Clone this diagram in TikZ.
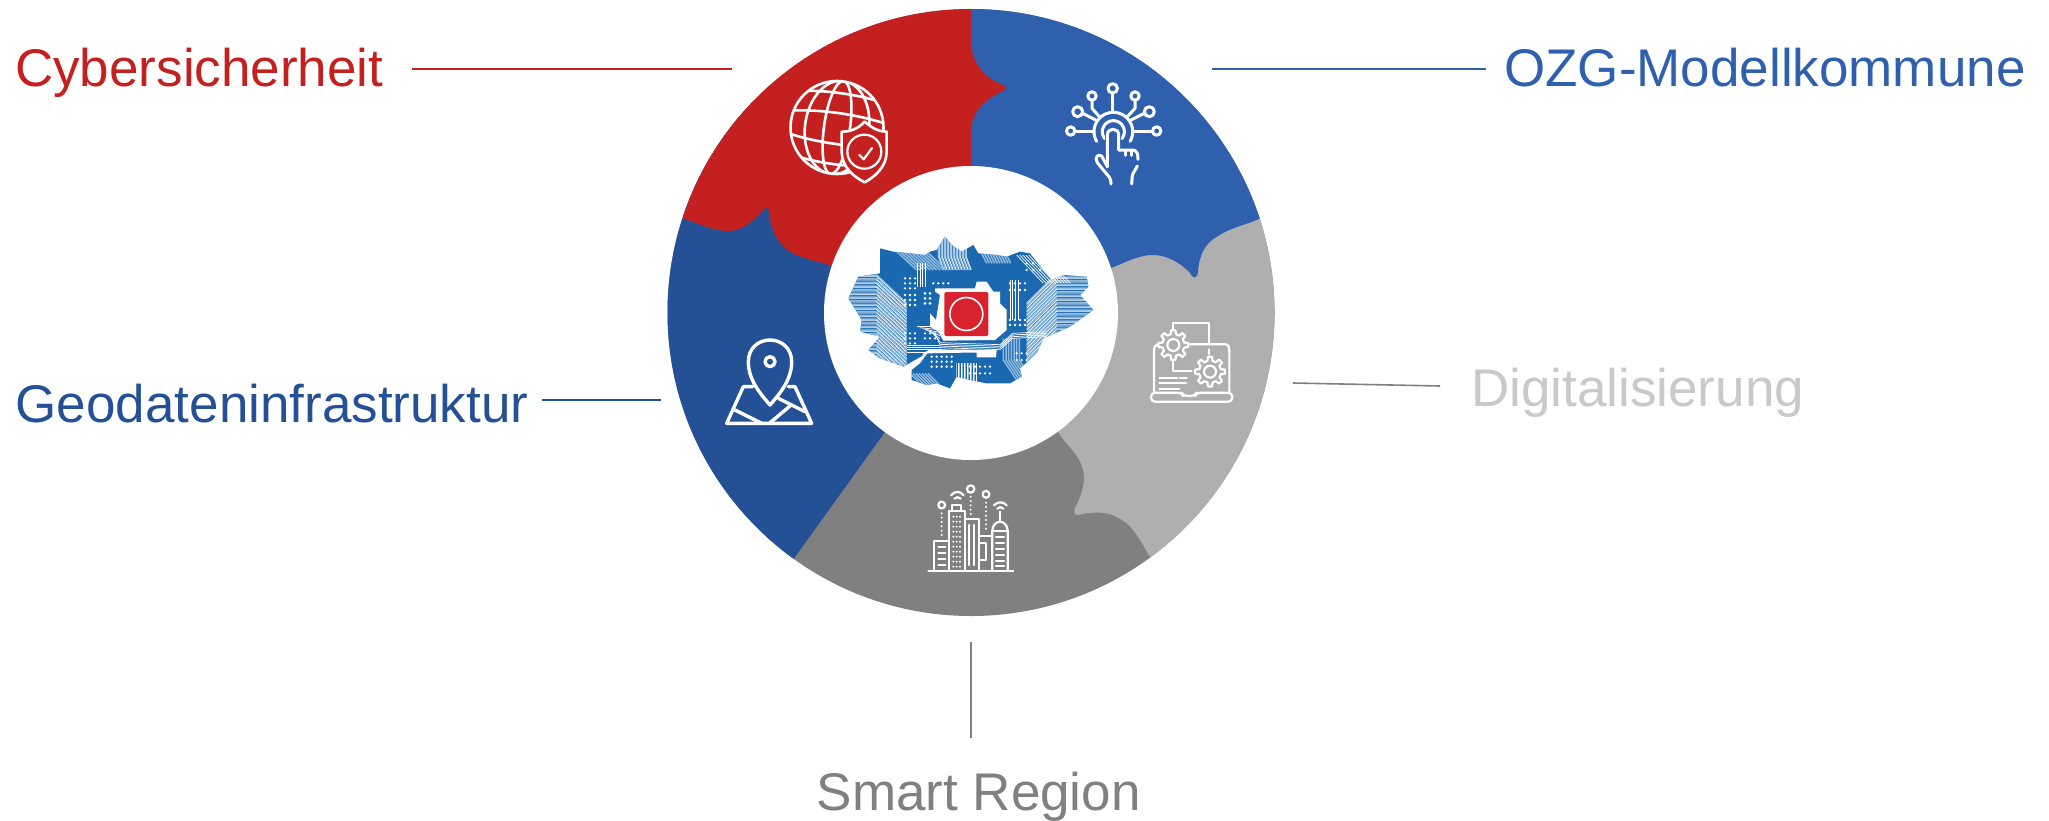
\documentclass[tikz,border=0pt]{standalone}
\usepackage{fontspec}
\setmainfont{Liberation Sans}
\usetikzlibrary{calc}
\definecolor{cred}{HTML}{C4201F}
\definecolor{cblue}{HTML}{2E60AE}
\definecolor{cdblue}{HTML}{245195}
\definecolor{clgray}{HTML}{AFAFAF}
\definecolor{cdgray}{HTML}{808080}
\definecolor{ctxtgray}{HTML}{C9C9C9}
\definecolor{pcb}{HTML}{1A69B0}
\definecolor{pcbl}{HTML}{8DB9DE}
\definecolor{chip}{HTML}{D8232F}
\tikzset{
  lab/.style={anchor=base west,inner sep=0pt,font=\fontsize{53}{60}\selectfont},
  lead/.style={line width=1.6pt},
  ico/.style={draw=white,line width=3pt,line cap=round,line join=round},
  icot/.style={draw=white,line width=2.2pt,line cap=round,line join=round},
  zoomed/.style={x=0.33333pt,y=-0.33333pt},
  trace/.style={white,line width=0.7pt},
  tracel/.style={pcbl,line width=1.5pt},
}
\newcommand{\gearico}[3]{%
  \draw[icot,fill=clgray] ($(#1,#2)+(-13:#3*0.74)$)
    \foreach \a in {0,45,...,315}{
      -- ($(#1,#2)+(\a-13:#3*0.74)$) -- ($(#1,#2)+(\a-8:#3)$) -- ($(#1,#2)+(\a+8:#3)$) -- ($(#1,#2)+(\a+13:#3*0.74)$)
    } -- cycle;
}
\begin{document}
\begin{tikzpicture}[x=1pt,y=-1pt]
\useasboundingbox (0,0) rectangle (2049,820);
% ring
\begin{scope}
\clip (971,312.5) circle[radius=303.5pt];
\fill[cdgray] (600,0) rectangle (1300,650);
\fill[clgray] (971,313) -- (1300,150) -- (1300,640) -- (1165,578) -- (1150,557)
  .. controls (1140,540) and (1132,525) .. (1122,520)
  .. controls (1108,510) and (1090,512) .. (1078,515)
  .. controls (1073,515) and (1074,511) .. (1075,508)
  .. controls (1082,495) and (1086,480) .. (1083,470)
  .. controls (1080,455) and (1066,445) .. (1058,432)
  -- cycle;
\fill[cdblue] (971,313) -- (885,432) -- (795,557) -- (780,578) -- (600,700) -- (600,100) -- (971,100) -- cycle;
\fill[cblue] (971,313) -- (971,0) -- (1300,0) -- (1300,205) -- (1259,219)
  .. controls (1245,225) and (1230,228) .. (1218,236)
  .. controls (1205,243) and (1199,255) .. (1198,272)
  .. controls (1197,279) and (1193,279) .. (1190,273)
  .. controls (1180,262) and (1165,254) .. (1150,255)
  .. controls (1137,256) and (1124,263) .. (1111,268)
  -- cycle;
\fill[cred] (600,0) -- (600,195) -- (682,218)
  .. controls (696,222) and (712,231) .. (728,231)
  .. controls (742,231) and (755,220) .. (763,210)
  .. controls (766,206) and (769,208) .. (769,213)
  .. controls (771,230) and (778,245) .. (792,253)
  .. controls (805,259) and (820,262) .. (832,266)
  -- (971,313) -- (971,133)
  .. controls (971,112) and (984,100) .. (1001,92)
  .. controls (1007,89) and (1007,86) .. (1001,84)
  .. controls (984,78) and (971,60) .. (971,43)
  -- (971,0) -- cycle;
\end{scope}
\fill[white] (971,313) circle[radius=147pt];

% logo
\begin{scope}[shift={(830,220)},zoomed]
\begin{scope}
\clip (150,85) -- (190,95) -- (240,100) -- (285,105) -- (300,95) -- (320,90) -- (345,50) -- (365,75) -- (395,95) -- (430,75) -- (445,100) -- (500,105) -- (530,110) -- (570,95) -- (600,100) -- (640,150) -- (665,180) -- (700,165) -- (770,170) -- (775,200) -- (750,225) -- (790,270) -- (720,320) -- (640,355) -- (620,400) -- (570,445) -- (575,470) -- (540,490) -- (470,490) -- (420,480) -- (380,470) -- (360,505) -- (320,490) -- (290,495) -- (245,480) -- (245,450) -- (270,430) -- (290,400) -- (220,440) -- (150,415) -- (115,390) -- (150,350) -- (90,335) -- (95,300) -- (55,235) -- (85,170) -- (150,160) -- cycle;
\fill[pcb] (0,0) rectangle (840,540);
% left stripes
\foreach \k in {0,1,...,22}{
  \draw[tracel] (40,165+\k*11) -- (140,165+\k*11) -- (230,250+\k*11);
  \draw[trace] (40,169+\k*11) -- (140,169+\k*11) -- (230,254+\k*11);
}
% right stripes
\foreach \k in {0,1,...,18}{
  \draw[tracel] (800,160+\k*11) -- (680,160+\k*11) -- (590,250+\k*11);
  \draw[trace] (800,164+\k*11) -- (680,164+\k*11) -- (590,254+\k*11);
}
% upper stripes
\foreach \k in {0,1,...,9}{
  \draw[tracel] (325+\k*9,40) -- (325+\k*9,110) -- (340+\k*9,150);
  \draw[trace] (328+\k*9,40) -- (328+\k*9,110) -- (343+\k*9,150);
  \draw[tracel] (450+\k*8,90) -- (470+\k*8,130);
  \draw[tracel] (195+\k*10,90) -- (260+\k*10,150);
  \draw[trace] (560+\k*9,105) -- (640+\k*9,190);
}
\foreach \k in {0,1,2,3,4,5,6}{
  \draw[tracel] (380+\k*9,430) -- (380+\k*9,500);
  \draw[trace] (384+\k*9,430) -- (384+\k*9,500);
  \draw[tracel] (240+\k*9,460) -- (290+\k*9,510);
  \draw[tracel] (520+\k*8,355) -- (520+\k*8,420) -- (560+\k*8,480);
  \draw[trace] (260+\k*9,320+\k*3) -- (330,320+\k*9);
}
% traces around the chip
\foreach \k in {0,1,2,3}{
  \draw[trace] (230,375+\k*7) -- (330+\k*3,375+\k*7);
  \draw[trace] (262+\k*8,130) -- (262+\k*8,200);
  \draw[trace] (540+\k*8,180) -- (540+\k*8,300);
  \draw[trace] (330,368+\k*5) -- (510,374+\k*5) -- (548,340+\k*5) -- (650,335+\k*5);
}
% white dot grids
\foreach \x in {285,300}{\foreach \y in {220,235,250}{\fill[white] (\x,\y) circle[radius=1.5pt];}}
\foreach \x in {225,240,255}{\foreach \y in {175,190,205,225,240,255,340,355,370}{\fill[white] (\x,\y) circle[radius=1.3pt];}}
\foreach \x in {285,300,315}{\foreach \y in {340,355}{\fill[white] (\x,\y) circle[radius=1.3pt];}}
\foreach \x in {310,325,340,355}{\fill[white] (\x,190) circle[radius=1.3pt];}
\foreach \x in {540,555,570,585}{\foreach \y in {190,210,300,315}{\fill[white] (\x,\y) circle[radius=1.3pt];}}
\foreach \x in {305,320,335,350,365}{\foreach \y in {410,425,440}{\fill[white] (\x,\y) circle[radius=1.3pt];}}
\foreach \x in {420,435,450,465,480}{\foreach \y in {440,460}{\fill[white] (\x,\y) circle[radius=1.3pt];}}
\foreach \x in {560,575,590}{\foreach \y in {400,420}{\fill[white] (\x,\y) circle[radius=1.3pt];}}
\foreach \x in {590,610,630}{\foreach \y in {130,150}{\fill[white] (\x,\y) circle[radius=1.3pt];}}
% white channels
\fill[white] (315,205) -- (435,205) -- (440,185) -- (470,185) -- (490,215) -- (510,215) -- (510,250) -- (530,270) -- (530,330) -- (495,360) -- (340,362) -- (325,335) -- (300,320) -- (300,280) -- (318,300) -- (330,225) -- (315,215) -- cycle;
\fill[white] (270,430) -- (292,400) -- (405,398) -- (440,398) -- (440,412) -- (498,412) -- (500,390) -- (300,388) -- (280,400) -- cycle;
\end{scope}
% chip
\fill[chip,rounded corners=1.5pt] (343,216) rectangle (475,348);
\draw[white,line width=1.6pt] (409,282) circle[radius=16.5pt];
\end{scope}

% globe icon
\begin{scope}[shift={(837,127.5)}]
\begin{scope}
\clip (0,0) circle[radius=47pt];
\begin{scope}[rotate=-8]
\draw[ico,line width=2.6pt] (0,0) ellipse[x radius=13pt,y radius=47pt];
\draw[ico,line width=2.6pt] (0,0) ellipse[x radius=32pt,y radius=47pt];
\draw[ico,line width=2.6pt] (-47,-30) .. controls (-20,-36) and (20,-36) .. (47,-30);
\draw[ico,line width=2.6pt] (-50,-10) .. controls (-20,-16) and (20,-16) .. (50,-10);
\draw[ico,line width=2.6pt] (-50,12) .. controls (-20,18) and (20,18) .. (50,12);
\draw[ico,line width=2.6pt] (-40,33) .. controls (-20,38) and (20,38) .. (40,33);
\end{scope}
\end{scope}
\draw[ico,line width=2.6pt] (0,0) circle[radius=46.5pt];
\end{scope}
\begin{scope}[shift={(770,70)},zoomed]
\draw[ico,line width=2.6pt,fill=cred] (284,155) .. controls (310,178) and (330,185) .. (350,185) -- (350,245) .. controls (350,290) and (315,320) .. (284,337) .. controls (250,320) and (215,290) .. (215,245) -- (215,185) .. controls (240,185) and (262,178) .. (284,155) -- cycle;
\draw[ico,line width=2.2pt] (283,245) circle[radius=17pt];
\draw[ico,line width=2.2pt] (268,255) -- (281,268) -- (306,234);
\end{scope}

% touch icon
\begin{scope}[shift={(1050,70)},zoomed]
\draw[ico] plot[domain=150:390,samples=40] ({190+58*cos(\x)},{185+58*sin(\x)});
\draw[ico] plot[domain=140:400,samples=30] ({190+33*cos(\x)},{185+33*sin(\x)});
\draw[ico] (188,69) -- (188,125);
\draw[ico] (188,55) circle[radius=4.7pt];
\draw[ico] (126,78) circle[radius=4.2pt];
\draw[ico] (255,78) circle[radius=4.2pt];
\draw[ico] (83,125) circle[radius=5pt];
\draw[ico] (298,125) circle[radius=5pt];
\draw[ico] (62,183) circle[radius=4.2pt];
\draw[ico] (320,183) circle[radius=4.2pt];
\draw[ico] (126,91) -- (126,115) -- (148,140);
\draw[ico] (255,91) -- (255,115) -- (232,140);
\draw[ico] (98,130) -- (137,150);
\draw[ico] (283,130) -- (243,150);
\draw[ico] (75,183) -- (132,183);
\draw[ico] (248,183) -- (307,183);
\fill[cblue] (165,300) -- (165,195) .. controls (165,160) and (213,160) .. (213,195) -- (213,300) -- cycle;
\draw[ico] (172,290) -- (172,195) .. controls (172,172) and (206,172) .. (206,195) -- (206,240) -- (250,240) .. controls (262,242) and (264,255) .. (264,268);
\draw[ico] (172,290) -- (155,258) .. controls (145,250) and (132,262) .. (142,278) -- (170,312) .. controls (180,322) and (183,330) .. (183,342);
\draw[ico] (225,242) -- (225,256);
\draw[ico] (245,242) -- (245,256);
\draw[ico] (262,288) -- (247,315) -- (245,342);
\end{scope}

% laptop icon
\begin{scope}[shift={(1140,310)},zoomed]
\draw[icot] (100,65) -- (100,40) -- (208,40) -- (208,100);
\draw[icot] (60,103) .. controls (45,103) and (42,110) .. (42,125) -- (42,245);
\draw[icot] (150,103) -- (255,103) .. controls (265,103) and (268,110) .. (268,125) -- (268,245);
\draw[icot] (208,118) -- (208,132);
\draw[icot] (100,150) -- (100,183) -- (155,183);
\draw[icot,rounded corners=4pt] (33,248) -- (125,248) -- (130,258) -- (165,258) -- (170,248) -- (277,248) -- (277,275) -- (33,275) -- cycle;
\draw[icot] (58,203) -- (112,203) (120,203) -- (140,203);
\draw[icot] (58,220) -- (138,220);
\draw[icot] (58,237) -- (118,237);
\gearico{100}{105}{45}
\draw[icot] (100,105) circle[radius=6pt];
\gearico{210}{185}{45}
\draw[icot] (210,185) circle[radius=6pt];
\end{scope}

% city icon
\begin{scope}[shift={(920,480)},zoomed]
\draw[icot] (25,272) -- (280,272);
\draw[icot] (42,272) -- (42,183) -- (86,183);
\foreach \y in {200,218,236,254}{\draw[icot] (55,\y) -- (76,\y);}
\draw[icot] (86,272) -- (86,92) -- (135,92) -- (135,272);
\draw[icot] (96,92) -- (96,74) -- (124,74) -- (124,92);
\foreach \x in {100,110,120}{\foreach \y in {110,125,...,260}{\fill[white] (\x,\y) circle[radius=1.1pt];}}
\draw[icot] (135,118) -- (178,118) -- (178,272);
\draw[icot] (147,135) -- (147,255) (163,135) -- (163,255);
\draw[icot] (178,168) -- (217,168);
\draw[icot] (178,188) -- (198,188) -- (198,240) -- (180,240);
\draw[icot] (217,272) -- (217,152) .. controls (217,135) and (230,125) .. (240,125) .. controls (250,125) and (263,135) .. (263,152) -- (263,272);
\draw[icot] (217,152) -- (263,152);
\draw[icot] (240,125) -- (240,95);
\foreach \y in {170,188,206,224,242,258}{\draw[icot] (228,\y) -- (252,\y);}
\draw[icot] (65,75) circle[radius=3.4pt];
\draw[icot] (152,27) circle[radius=3.7pt];
\draw[icot] (198,43) circle[radius=3.4pt];
\foreach \y in {100,113,126,139,152,165}{\fill[white] (65,\y) circle[radius=1.1pt];}
\foreach \y in {50,63,76,89,102}{\fill[white] (152,\y) circle[radius=1.1pt];}
\foreach \y in {68,81,94,107,120,133,146}{\fill[white] (198,\y) circle[radius=1.1pt];}
\draw[icot] (93,46) .. controls (105,32) and (120,32) .. (131,46);
\draw[icot] (103,56) .. controls (110,50) and (115,50) .. (122,56);
\draw[icot] (222,76) .. controls (232,64) and (250,64) .. (260,76);
\draw[icot] (232,86) .. controls (238,80) and (244,80) .. (250,86);
\end{scope}

% map icon
\begin{scope}[shift={(710,330)},zoomed]
\draw[ico,line width=3.4pt] (180,225) .. controls (150,190) and (115,150) .. (115,95) .. controls (115,55) and (145,30) .. (180,30) .. controls (215,30) and (245,55) .. (245,95) .. controls (245,150) and (210,190) .. (180,225) -- cycle;
\draw[ico,line width=3.4pt] (180,95) circle[radius=5pt];
\draw[ico,line width=3.4pt] (128,170) -- (100,170) -- (50,280) -- (305,280) -- (255,170) -- (235,170);
\draw[ico,line width=3.4pt] (75,240) -- (155,280);
\draw[ico,line width=3.4pt] (205,205) -- (285,245);
\draw[ico,line width=3.4pt] (240,228) -- (178,280);
\end{scope}

% labels
\node[lab,text=cred] (cyber) at (15,86) {Cybersicherheit};
\node[lab,text=cblue] (ozg) at (1504,86) {OZG-Modellkommune};
\node[lab,text=cdblue] (geo) at (15.5,422) {Geodateninfrastruktur};
\node[lab,text=ctxtgray] (digi) at (1471,406) {Digitalisierung};
\node[lab,text=cdgray] (smart) at (816.5,810) {Smart Region};
% leader ends
\coordinate (rc) at (732,69);
\coordinate (rb) at (1212,69);
\coordinate (rg) at (661,400);
\coordinate (rd) at (1293,383);
\coordinate (rs) at (971,642);
\coordinate (lc) at (412,69);
\coordinate (lb) at (1486,69);
\coordinate (lg) at (542,400);
\coordinate (ld) at (1440,386);
\coordinate (ls) at (971,738);
\draw[lead,draw=cred] (lc) -- (rc);
\draw[lead,draw=cblue] (lb) -- (rb);
\draw[lead,draw=cdblue] (lg) -- (rg);
\draw[lead,draw=cdgray] (ld) -- (rd);
\draw[lead,draw=cdgray] (ls) -- (rs);
\end{tikzpicture}
\end{document}
